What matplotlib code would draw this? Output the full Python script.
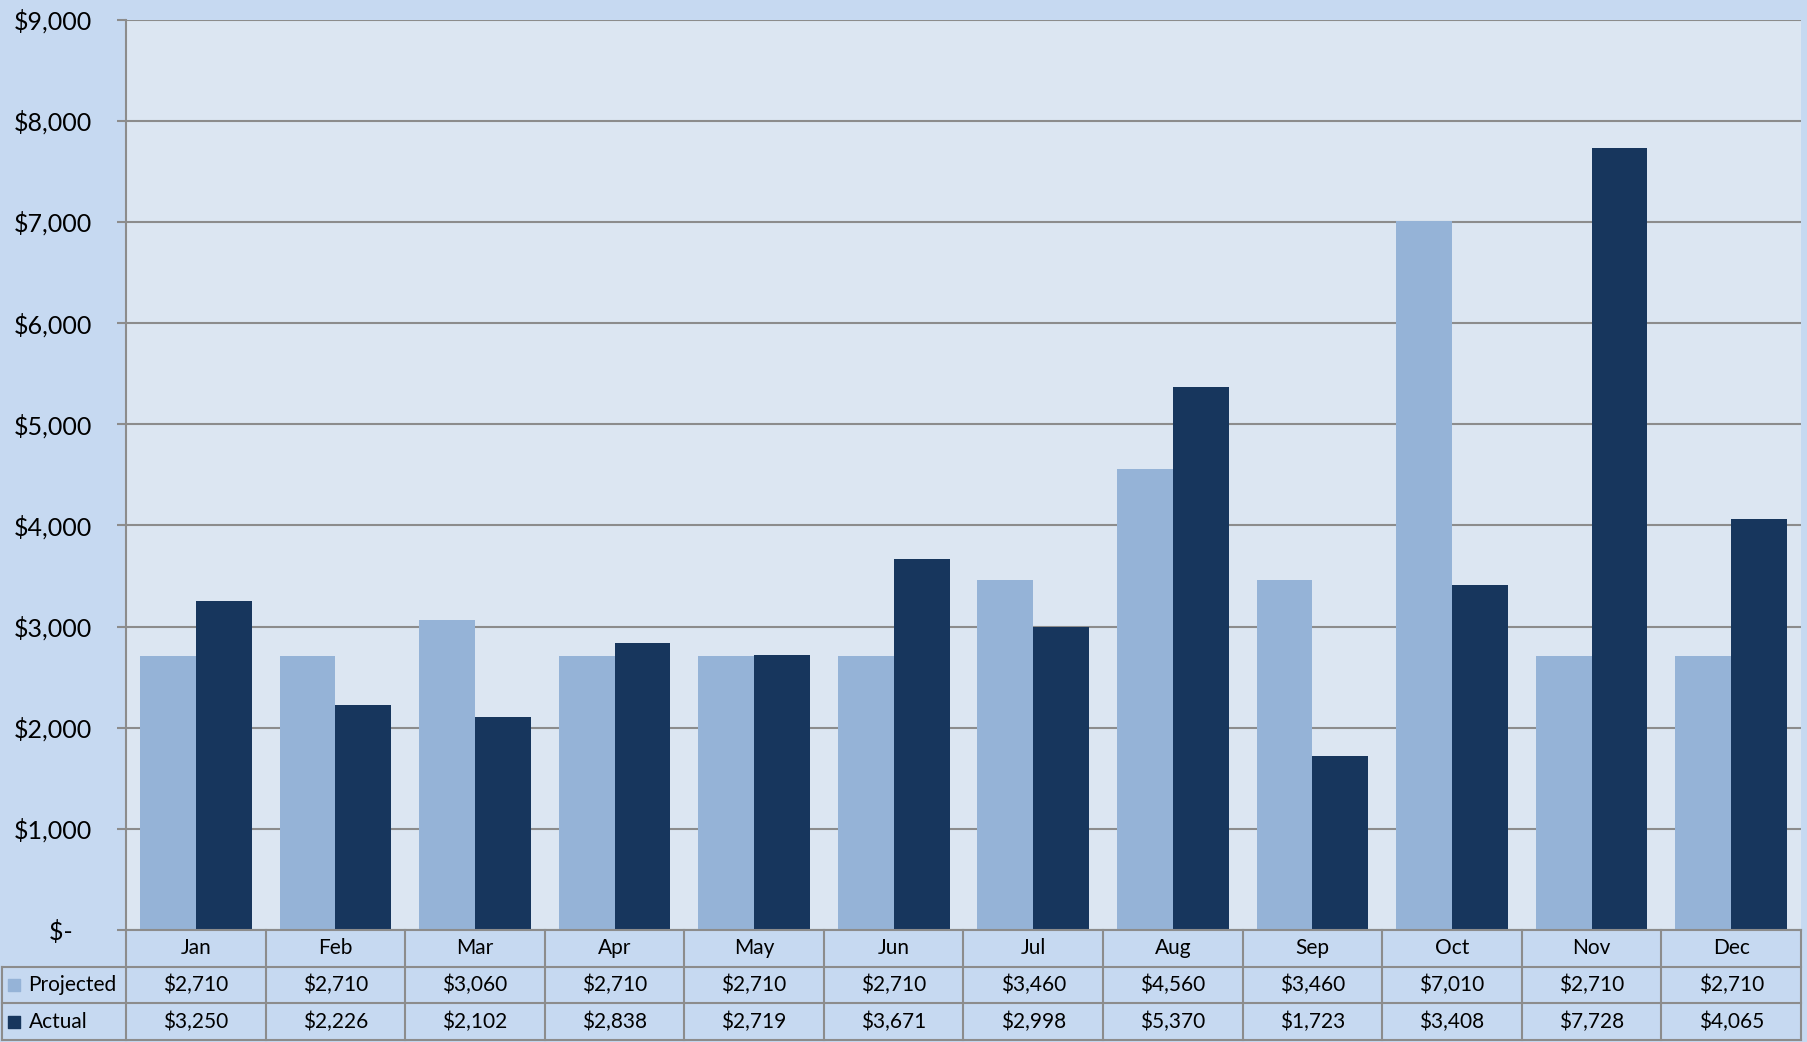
import numpy as np
import matplotlib
matplotlib.use("Agg")
import matplotlib.pyplot as plt

plt.rcParams['font.family'] = ['Lato', 'DejaVu Sans']

months = ['Jan', 'Feb', 'Mar', 'Apr', 'May', 'Jun', 'Jul', 'Aug', 'Sep', 'Oct', 'Nov', 'Dec']
projected = [2710, 2710, 3060, 2710, 2710, 2710, 3460, 4560, 3460, 7010, 2710, 2710]
actual = [3250, 2226, 2102, 2838, 2719, 3671, 2998, 5370, 1723, 3408, 7728, 4065]
series_names = ['Projected', 'Actual']
yticks = [0, 1000, 2000, 3000, 4000, 5000, 6000, 7000, 8000, 9000]

bg = '#C6D9F1'
plot_bg = '#DCE6F2'
c_proj = '#95B3D7'
c_act = '#17365D'
grid_c = '#8C8C8C'

W, H = 1808, 1042
fig = plt.figure(figsize=(W / 100, H / 100), dpi=100, facecolor=bg)

# main plot area
left, right, top, zero = 126, 1801, 19.5, 930
ax = fig.add_axes([left / W, (H - zero) / H, (right - left) / W, (zero - top) / H])
ax.set_facecolor(plot_bg)
x = np.arange(len(months))
w = 0.4
ax.bar(x - w / 2, projected, w, color=c_proj, zorder=3)
ax.bar(x + w / 2, actual, w, color=c_act, zorder=3)
ax.set_xlim(-0.5, len(months) - 0.5)
ax.set_ylim(0, 9000)
ax.set_yticks(yticks)
ax.set_yticklabels(['$-   '] + ['${:,}'.format(v) for v in yticks[1:]])
ax.grid(axis='y', color=grid_c, linewidth=1.5, zorder=1)
ax.set_xticks([])
ax.tick_params(axis='y', length=6.5, width=1.5, color=grid_c, pad=18, labelsize=18)
for s in ['top', 'right', 'bottom']:
    ax.spines[s].set_visible(False)
ax.spines['left'].set_color(grid_c)
ax.spines['left'].set_linewidth(1.5)

# data table below
lab_w = (left - 2) / ((right - left) / 12)
t_left, t_bot = 2, 1040
ta = fig.add_axes([t_left / W, (H - t_bot) / H, (right - t_left) / W, (t_bot - zero) / H])
ta.set_xlim(-0.5 - lab_w, len(months) - 0.5)
ta.set_ylim(3, 0)
ta.axis('off')
ta.patch.set_alpha(0)
lk = dict(color=grid_c, linewidth=1.5, clip_on=False)
ta.plot([-0.5, len(months) - 0.5], [0, 0], **lk)
for r in [1, 2, 3]:
    ta.plot([-0.5 - lab_w, len(months) - 0.5], [r, r], **lk)
ta.plot([-0.5 - lab_w, -0.5 - lab_w], [1, 3], **lk)
for k in range(len(months) + 1):
    ta.plot([k - 0.5, k - 0.5], [0, 3], **lk)

fs = 15
for i, m in enumerate(months):
    ta.text(i, 0.5, m, ha='center', va='center', fontsize=fs)
    ta.text(i, 1.5, '${:,}'.format(projected[i]), ha='center', va='center', fontsize=fs)
    ta.text(i, 2.5, '${:,}'.format(actual[i]), ha='center', va='center', fontsize=fs)

for r, (name, col) in enumerate(zip(series_names, [c_proj, c_act])):
    yc = 1.5 + r
    ta.scatter([-0.5 - lab_w + 0.085], [yc], marker='s', s=80, color=col, clip_on=False)
    ta.text(-0.5 - lab_w + 0.19, yc, name, ha='left', va='center', fontsize=fs)

fig.savefig('out.png', dpi=100, facecolor=bg)
